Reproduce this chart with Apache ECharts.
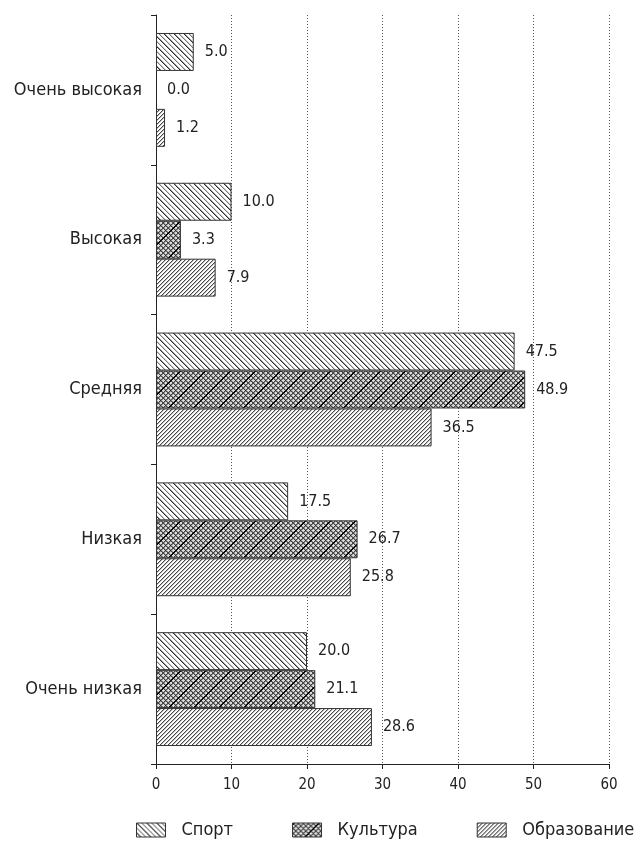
<!DOCTYPE html>
<html>
<head>
<meta charset="utf-8">
<script src="https://cdn.jsdelivr.net/npm/echarts@6/dist/echarts.min.js"></script>
<style>
  html, body { margin: 0; padding: 0; background: #fff; }
  #chart { width: 640px; height: 848px; }
</style>
</head>
<body>
<div id="chart"></div>
<script>
// Rating categories (top to bottom) and the share per field, %
const categories = ['Очень высокая', 'Высокая', 'Средняя', 'Низкая', 'Очень низкая'];
const seriesNames = ['Спорт', 'Культура', 'Образование'];
const sport = [5.0, 10.0, 47.5, 17.5, 20.0];
const culture = [0.0, 3.3, 48.9, 26.7, 21.1];
const education = [1.2, 7.9, 36.5, 25.8, 28.6];
const xTicks = [0, 10, 20, 30, 40, 50, 60];

const FONT = '"Liberation Sans Narrow", "DejaVu Sans Condensed", "Liberation Sans", sans-serif';

// Hatch tiles built pixel by pixel so the lines stay crisp
function makeTile(size, painter) {
  const c = document.createElement('canvas');
  c.width = size; c.height = size;
  const ctx = c.getContext('2d');
  const img = ctx.createImageData(size, size);
  for (let y = 0; y < size; y++) {
    for (let x = 0; x < size; x++) {
      const v = painter(x, y);
      const i = (y * size + x) * 4;
      img.data[i] = v; img.data[i + 1] = v; img.data[i + 2] = v; img.data[i + 3] = 255;
    }
  }
  ctx.putImageData(img, 0, 0);
  return c;
}
const mod = (a, n) => ((a % n) + n) % n;

// Back-slash hatch, alternating dark and light strokes
const sportTile = makeTile(10, (x, y) => {
  const d = mod(x - y, 10);
  if (d === 0) return 45;
  if (d === 1) return 150;
  if (d === 5) return 120;
  if (d === 6) return 205;
  return 255;
});
// Fine cross-hatch with a heavy forward diagonal
const cultureTile = makeTile(25, (x, y) => {
  const h = mod(x + y, 25);
  if (h === 0 || h === 1) return 10;
  const a = mod(x + y, 5) === 0;
  const b = mod(x - y, 5) === 0;
  if (a && b) return 35;
  if (a || b) return 70;
  const a2 = mod(x + y, 5) === 1;
  const b2 = mod(x - y, 5) === 1;
  if (a2 || b2) return 140;
  return 220;
});
// Forward-slash hatch
const eduTile = makeTile(8, (x, y) => {
  const d = mod(x + y, 4);
  if (d === 0) return 70;
  if (d === 1) return 190;
  return 255;
});

const tiles = [sportTile, cultureTile, eduTile];
const dataSets = [sport, culture, education];

const chart = echarts.init(document.getElementById('chart'), null, { renderer: 'canvas' });

const series = seriesNames.map((name, k) => ({
  name: name,
  type: 'bar',
  // a zero-length bar gets no outline
  data: dataSets[k].map(v => ({ value: v, itemStyle: { borderWidth: v === 0 ? 0 : 1 } })),
  barGap: '0%',
  barCategoryGap: '24%',
  itemStyle: {
    color: { image: tiles[k], repeat: 'repeat' },
    borderColor: '#333',
    borderWidth: 1
  },
  label: {
    show: true,
    position: 'right',
    distance: 11,
    color: '#222',
    fontFamily: FONT,
    fontSize: 16,
    formatter: p => p.value.toFixed(1)
  },
  emphasis: { disabled: true },
  animation: false
}));

chart.setOption({
  animation: false,
  backgroundColor: '#fff',
  grid: { left: 156, right: 31, top: 15, bottom: 84, containLabel: false },
  legend: {
    orient: 'horizontal',
    bottom: 4,
    left: 131,
    width: 520,
    icon: 'rect',
    itemWidth: 29,
    itemHeight: 14,
    itemGap: 59,
    data: seriesNames,
    selectedMode: false,
    textStyle: { fontFamily: FONT, fontSize: 18, color: '#222', padding: [0, 0, 0, 11] },
    itemStyle: { borderColor: '#333', borderWidth: 1 }
  },
  xAxis: {
    type: 'value',
    min: xTicks[0],
    max: xTicks[xTicks.length - 1],
    interval: 10,
    axisLine: { show: true, lineStyle: { color: '#222', width: 1 } },
    axisTick: { show: true, length: 5, lineStyle: { color: '#222' } },
    axisLabel: { color: '#222', fontFamily: FONT, fontSize: 15, margin: 14 },
    splitLine: { show: true, lineStyle: { color: '#555', type: [1, 2], width: 1 } }
  },
  yAxis: {
    type: 'category',
    data: categories,
    inverse: true,
    axisLine: { show: true, lineStyle: { color: '#222', width: 1 } },
    axisTick: { show: true, length: 5, alignWithLabel: false, lineStyle: { color: '#222' } },
    axisLabel: { color: '#222', fontFamily: FONT, fontSize: 18, margin: 14 }
  },
  series: series
});
</script>
</body>
</html>
